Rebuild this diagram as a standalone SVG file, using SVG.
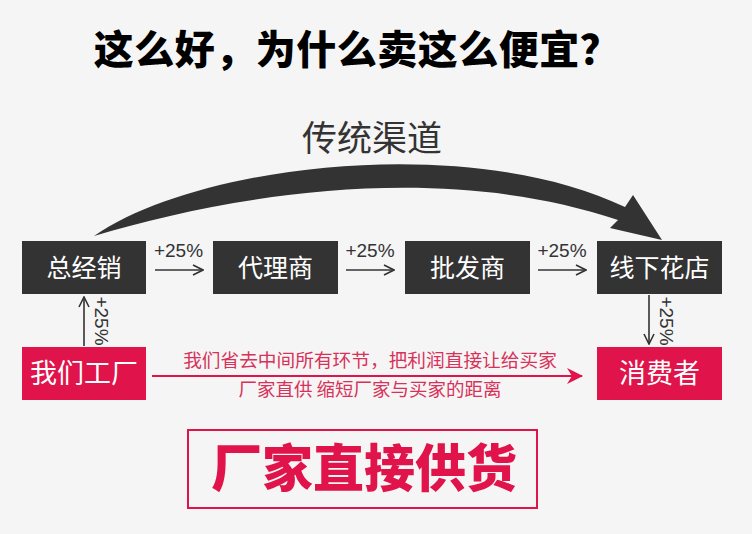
<svg xmlns="http://www.w3.org/2000/svg" width="752" height="534" viewBox="0 0 752 534">
<defs>
<marker id="ah" viewBox="0 0 12 12" refX="11" refY="6" markerWidth="12" markerHeight="12" markerUnits="userSpaceOnUse" orient="auto">
<path d="M1,1 L11,6 L1,11" fill="none" stroke="#333" stroke-width="1.6"/>
</marker>
<marker id="ahr" viewBox="0 0 16 16" refX="15" refY="8" markerWidth="16" markerHeight="16" markerUnits="userSpaceOnUse" orient="auto">
<path d="M0,0 L16,8 L0,16 L5,8 Z" fill="#e0134a"/>
</marker>
</defs>
<style>
.cn{font-family:"Noto Sans CJK SC","Noto Sans",sans-serif}
.dark{fill:#333333}
.red{fill:#e0134a}
.bl{fill:#ffffff;font-size:25px;text-anchor:middle}
.rl{fill:#ffffff;font-size:27px;text-anchor:middle}
.pct{font-family:"Liberation Sans",Arial,sans-serif;font-size:19px;fill:#333;text-anchor:middle}
.ln{stroke:#333;stroke-width:1.6;fill:none}
</style>
<rect width="752" height="534" fill="#f5f5f5"/>
<text x="357" y="64" class="cn" font-size="40" font-weight="900" fill="#000" text-anchor="middle" letter-spacing="0.5">这么好，为什么卖这么便宜？</text>
<text x="372" y="151" class="cn" font-size="35" fill="#333" text-anchor="middle">传统渠道</text>

<g id="connectors">
<path d="M94,236 C200,163 470,133 625,207 L633,195 L662,240 L610,228 L618,220 C440,160 230,195 94,236 Z" fill="#333"/>
<path class="ln" d="M155,270 L203,270" marker-end="url(#ah)"/>
<path class="ln" d="M346,270 L394,270" marker-end="url(#ah)"/>
<path class="ln" d="M538,270 L586,270" marker-end="url(#ah)"/>
<path class="ln" d="M84,346 L84,297" marker-end="url(#ah)"/>
<path class="ln" d="M649,295 L649,344" marker-end="url(#ah)"/>
<path d="M152,376 L582,376" stroke="#e0134a" stroke-width="2" fill="none" marker-end="url(#ahr)"/>
<text x="178.5" y="257" class="pct">+25%</text>
<text x="370" y="257" class="pct">+25%</text>
<text x="562" y="257" class="pct">+25%</text>
<text class="pct" transform="translate(95,321) rotate(90)">+25%</text>
<text class="pct" transform="translate(660,321) rotate(90)">+25%</text>
<text x="370" y="367" class="cn" font-size="18.7" fill="#d8325a" text-anchor="middle">我们省去中间所有环节，把利润直接让给买家</text>
<text x="370" y="396" class="cn" font-size="18.5" fill="#d8325a" text-anchor="middle">厂家直供 缩短厂家与买家的距离</text>
</g>

<g id="n1"><rect x="22" y="241" width="124" height="53" class="dark"/><text x="84" y="277" class="cn bl">总经销</text></g>
<g id="n2"><rect x="213" y="241" width="125" height="53" class="dark"/><text x="275.5" y="277" class="cn bl">代理商</text></g>
<g id="n3"><rect x="405" y="241" width="125" height="53" class="dark"/><text x="467.5" y="277" class="cn bl">批发商</text></g>
<g id="n4"><rect x="597" y="241" width="125" height="53" class="dark"/><text x="659.5" y="277" class="cn bl">线下花店</text></g>
<g id="n5"><rect x="22" y="347" width="124" height="53" class="red"/><text x="84" y="383" class="cn rl">我们工厂</text></g>
<g id="n6"><rect x="597" y="347" width="125" height="53" class="red"/><text x="659.5" y="383" class="cn rl">消费者</text></g>
<g id="n7"><rect x="188" y="430" width="349" height="78" fill="none" stroke="#e0134a" stroke-width="2"/><text x="364" y="487" class="cn" font-size="51" font-weight="900" fill="#e0134a" text-anchor="middle">厂家直接供货</text></g>
</svg>
